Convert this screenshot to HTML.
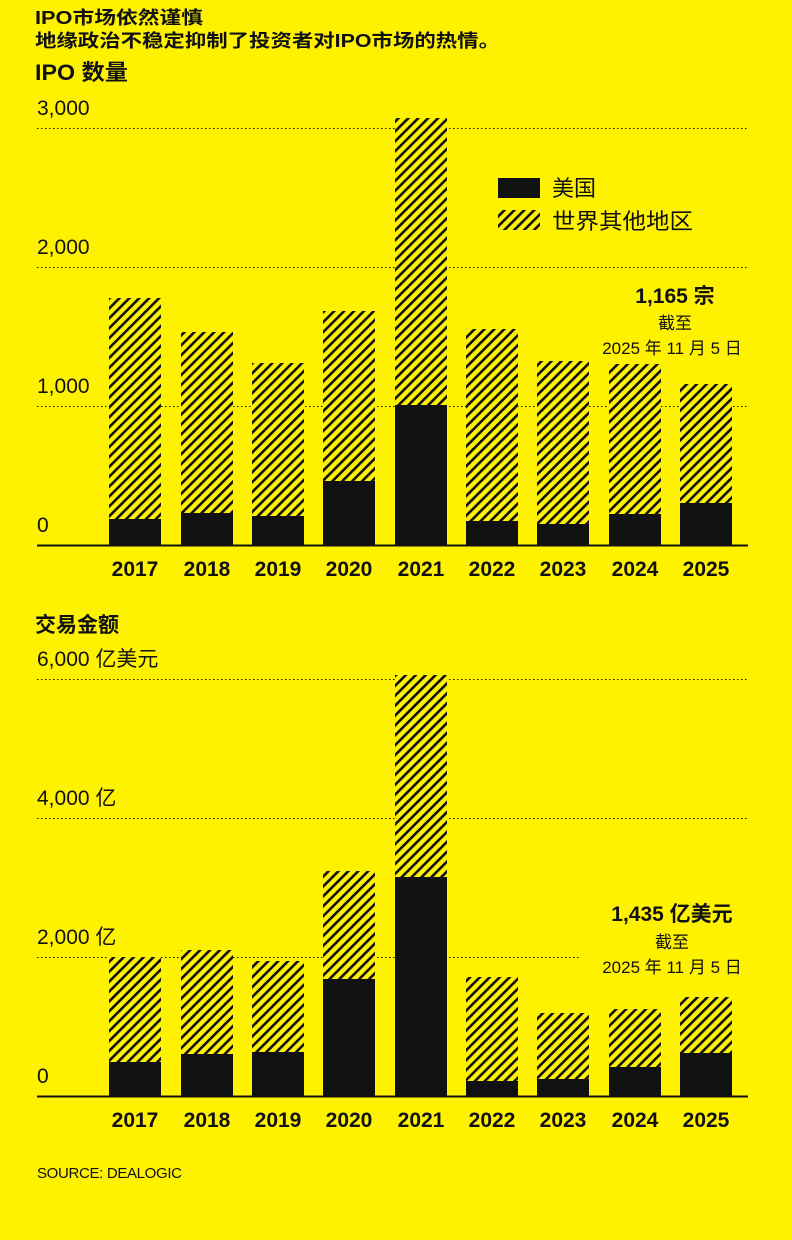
<!DOCTYPE html>
<html><head><meta charset="utf-8"><style>
body{margin:0;background:#FFF200;}
svg{display:block}
text{font-family:"Liberation Sans","Noto Sans CJK SC",sans-serif;fill:#111}
</style></head><body>
<svg width="792" height="1240" viewBox="0 0 792 1240" xmlns="http://www.w3.org/2000/svg">
<defs>
<pattern id="h" patternUnits="userSpaceOnUse" width="7" height="7" patternTransform="rotate(45)">
<rect width="7" height="7" fill="#FFF200"/><rect width="2.6" height="7" fill="#111"/>
</pattern>
</defs>
<rect width="792" height="1240" fill="#FFF200"/>
<text x="35" y="24" font-size="18" font-weight="bold" textLength="168" lengthAdjust="spacingAndGlyphs">IPO市场依然谨慎</text>
<text x="35" y="47" font-size="18" font-weight="bold" textLength="465" lengthAdjust="spacingAndGlyphs">地缘政治不稳定抑制了投资者对IPO市场的热情。</text>
<text x="35" y="80" font-size="22" font-weight="bold" textLength="93" lengthAdjust="spacingAndGlyphs">IPO 数量</text>
<g font-size="21">
<text x="37" y="115">3,000</text><text x="37" y="254">2,000</text><text x="37" y="393">1,000</text><text x="37" y="532">0</text>
</g>
<g stroke="#111" stroke-width="1" stroke-dasharray="1.5,2.5">
<line x1="37" y1="128.5" x2="748" y2="128.5"/><line x1="37" y1="267.5" x2="748" y2="267.5"/><line x1="37" y1="406.5" x2="748" y2="406.5"/>
</g>
<g fill="url(#h)">
<rect x="109" y="298" width="52" height="247"/><rect x="181" y="332" width="52" height="213"/><rect x="252" y="363" width="52" height="182"/><rect x="323" y="311" width="52" height="234"/><rect x="395" y="118" width="52" height="427"/><rect x="466" y="329" width="52" height="216"/><rect x="537" y="361" width="52" height="184"/><rect x="609" y="364" width="52" height="181"/><rect x="680" y="384" width="52" height="161"/>
</g>
<g fill="#111">
<rect x="109" y="519" width="52" height="26"/><rect x="181" y="513" width="52" height="32"/><rect x="252" y="516" width="52" height="29"/><rect x="323" y="481" width="52" height="64"/><rect x="395" y="405" width="52" height="140"/><rect x="466" y="521" width="52" height="24"/><rect x="537" y="524" width="52" height="21"/><rect x="609" y="514" width="52" height="31"/><rect x="680" y="503" width="52" height="42"/>
</g>
<line x1="37" y1="545.5" x2="748" y2="545.5" stroke="#111" stroke-width="2"/>
<g font-size="21" font-weight="bold" text-anchor="middle">
<text x="135" y="576">2017</text><text x="207" y="576">2018</text><text x="278" y="576">2019</text><text x="349" y="576">2020</text><text x="421" y="576">2021</text><text x="492" y="576">2022</text><text x="563" y="576">2023</text><text x="635" y="576">2024</text><text x="706" y="576">2025</text>
</g>
<rect x="498" y="178" width="42" height="20" fill="#111"/>
<rect x="498" y="210" width="42" height="20" fill="url(#h)"/>
<text x="552" y="196" font-size="22">美国</text>
<text x="552" y="229" font-size="22" textLength="141" lengthAdjust="spacingAndGlyphs">世界其他地区</text>
<g text-anchor="middle">
<text x="675" y="303" font-size="21" font-weight="bold">1,165 宗</text>
<text x="675" y="329" font-size="17">截至</text>
<text x="672" y="354" font-size="17">2025 年 11 月 5 日</text>
</g>

<text x="35" y="632" font-size="21" font-weight="bold">交易金额</text>
<g font-size="21">
<text x="37" y="666">6,000 亿美元</text><text x="37" y="805">4,000 亿</text><text x="37" y="944">2,000 亿</text><text x="37" y="1083">0</text>
</g>
<g stroke="#111" stroke-width="1" stroke-dasharray="1.5,2.5">
<line x1="37" y1="679.5" x2="748" y2="679.5"/><line x1="37" y1="818.5" x2="748" y2="818.5"/><line x1="37" y1="957.5" x2="580" y2="957.5"/>
</g>
<g fill="url(#h)">
<rect x="109" y="957" width="52" height="139"/><rect x="181" y="950" width="52" height="146"/><rect x="252" y="961" width="52" height="135"/><rect x="323" y="871" width="52" height="225"/><rect x="395" y="675" width="52" height="421"/><rect x="466" y="977" width="52" height="119"/><rect x="537" y="1013" width="52" height="83"/><rect x="609" y="1009" width="52" height="87"/><rect x="680" y="997" width="52" height="99"/>
</g>
<g fill="#111">
<rect x="109" y="1062" width="52" height="34"/><rect x="181" y="1054" width="52" height="42"/><rect x="252" y="1052" width="52" height="44"/><rect x="323" y="979" width="52" height="117"/><rect x="395" y="877" width="52" height="219"/><rect x="466" y="1081" width="52" height="15"/><rect x="537" y="1079" width="52" height="17"/><rect x="609" y="1067" width="52" height="29"/><rect x="680" y="1053" width="52" height="43"/>
</g>
<line x1="37" y1="1096.5" x2="748" y2="1096.5" stroke="#111" stroke-width="2"/>
<g font-size="21" font-weight="bold" text-anchor="middle">
<text x="135" y="1127">2017</text><text x="207" y="1127">2018</text><text x="278" y="1127">2019</text><text x="349" y="1127">2020</text><text x="421" y="1127">2021</text><text x="492" y="1127">2022</text><text x="563" y="1127">2023</text><text x="635" y="1127">2024</text><text x="706" y="1127">2025</text>
</g>
<g text-anchor="middle">
<text x="672" y="921" font-size="21" font-weight="bold">1,435 亿美元</text>
<text x="672" y="948" font-size="17">截至</text>
<text x="672" y="973" font-size="17">2025 年 11 月 5 日</text>
</g>
<text x="37" y="1178" font-size="15" textLength="145">SOURCE: DEALOGIC</text>
</svg>
</body></html>
